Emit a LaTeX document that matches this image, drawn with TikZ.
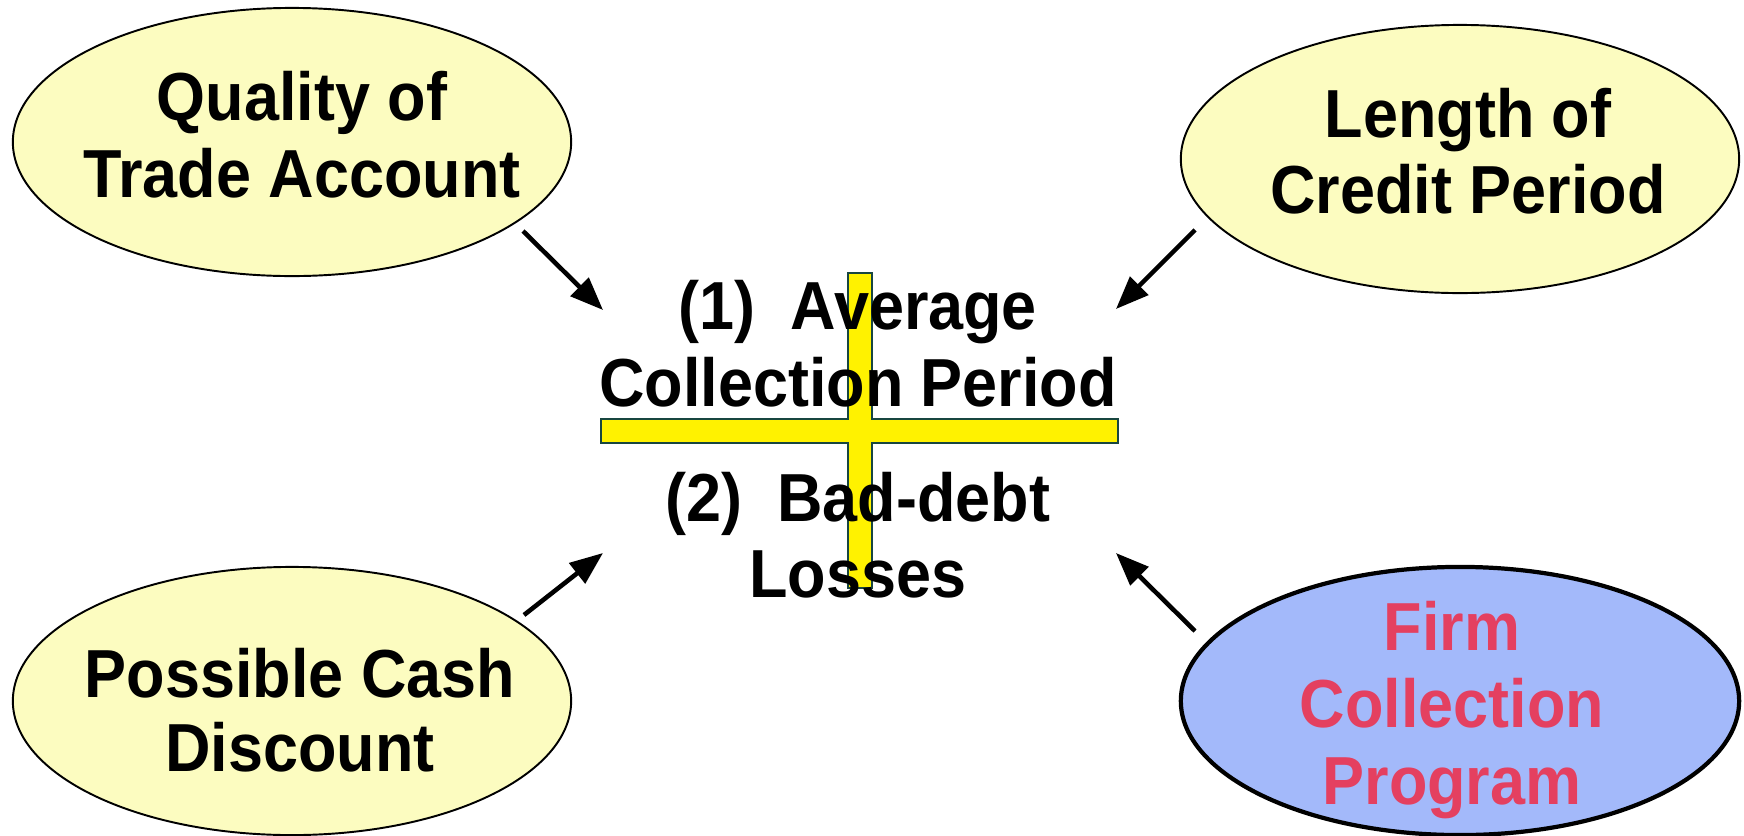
\documentclass[tikz,border=0pt]{standalone}
\usepackage{fontspec}
\usepackage{graphicx}
\setmainfont{Liberation Sans}
\usetikzlibrary{shapes.geometric,arrows.meta}
\definecolor{paleyellow}{RGB}{252,252,192}
\definecolor{paleblue}{RGB}{163,185,250}
\definecolor{rosered}{RGB}{228,64,96}
\definecolor{crossedge}{RGB}{24,70,64}
% slightly tall bold lettering
\newcommand{\tallword}[1]{\scalebox{1}[1.08]{#1}}
\tikzset{
  bubble/.style={ellipse, draw=black, line width=0.55pt, fill=paleyellow,
    minimum width=5.58cm, minimum height=2.68cm, inner sep=0pt},
  keybubble/.style={bubble, fill=paleblue, line width=1.2pt},
  txt/.style={anchor=base, inner sep=0pt,
    font=\fontsize{17.9pt}{21.9pt}\selectfont\bfseries},
  redtxt/.style={txt, text=rosered},
  arr/.style={line width=1.3pt, -{Triangle[length=9.4pt,width=7.2pt]}},
}
\begin{document}
\begin{tikzpicture}[x=0.01cm, y=-0.01cm]
\useasboundingbox (0,0) rectangle (1744,836);

% four influencing factors
\node[bubble] (qual) at (292,142) {};
\node[bubble] (len) at (1460,159) {};
\node[bubble] (disc) at (292,701) {};
\node[keybubble] (firm) at (1460,701) {};

% the yellow cross behind the central outcomes
\draw[crossedge, line width=0.6pt, fill=yellow]
  (601,419) -- (848,419) -- (848,273) -- (872,273) -- (872,419) -- (1118,419)
  -- (1118,443) -- (872,443) -- (872,588) -- (848,588) -- (848,443) -- (601,443) -- cycle;

% labels of the factors
\node[txt] (qual1) at (302,120) {\tallword{Quality of}};
\node[txt] (qual2) at (302,197) {\tallword{Trade Account}};
\node[txt] (len1) at (1468,137) {\tallword{Length of}};
\node[txt] (len2) at (1468,213) {\tallword{Credit Period}};
\node[txt] (disc1) at (300,697) {\tallword{Possible Cash}};
\node[txt] (disc2) at (300,771) {\tallword{Discount}};
\node[redtxt] (firm1) at (1452,650) {\tallword{Firm}};
\node[redtxt] (firm2) at (1452,727) {\tallword{Collection}};
\node[redtxt] (firm3) at (1452,804) {\tallword{Program}};

% central outcomes
\node[txt] (out1) at (858,329) {\tallword{(1)\ \ Average}};
\node[txt] (out2) at (858,406) {\tallword{Collection Period}};
\node[txt] (out3) at (858,521) {\tallword{(2)\ \ Bad-debt}};
\node[txt] (out4) at (858,597) {\tallword{Losses}};

% arrow ends
\coordinate (qualA) at (523,231);
\coordinate (qualB) at (603,310);
\coordinate (lenA) at (1195,230);
\coordinate (lenB) at (1116,309);
\coordinate (discA) at (524,615);
\coordinate (discB) at (603,553);
\coordinate (firmA) at (1195,631);
\coordinate (firmB) at (1116,553);

\draw[arr] (qualA) -- (qualB);
\draw[arr] (lenA) -- (lenB);
\draw[arr] (discA) -- (discB);
\draw[arr] (firmA) -- (firmB);
\end{tikzpicture}
\end{document}
